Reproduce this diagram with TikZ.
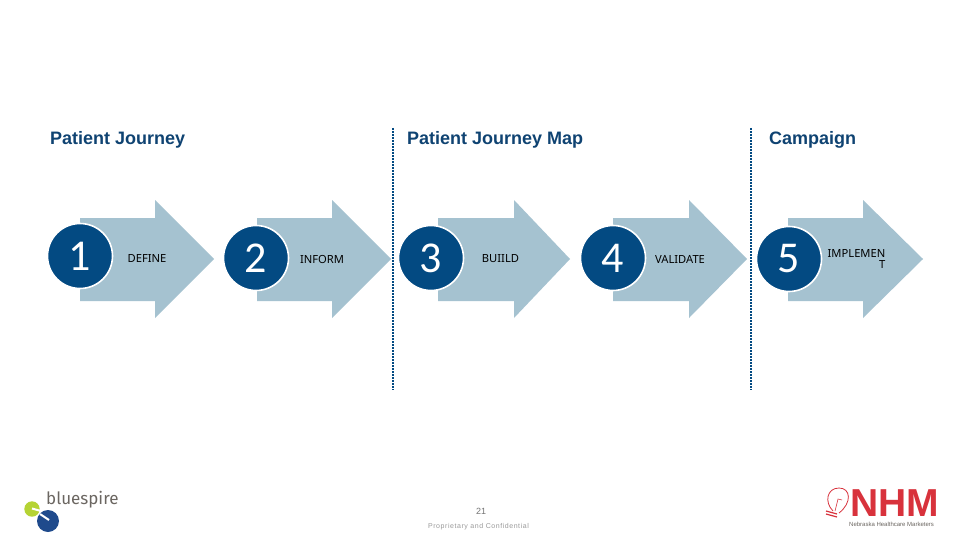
\documentclass[tikz,border=0pt]{standalone}
\usepackage{xcolor}
\usepackage{fontspec}
\setmainfont{Liberation Sans}
\newfontfamily\digitfont{Carlito}
\newfontfamily\labelfont{Noto Sans}
\newfontfamily\logofont{Fira Sans}
\usetikzlibrary{positioning}
\definecolor{DeepBlue}{HTML}{034A82}
\definecolor{HeadBlue}{HTML}{0F4372}
\definecolor{SoftBlue}{HTML}{A5C2D0}
\definecolor{SpireGreen}{HTML}{B5D334}
\definecolor{SpireBlue}{HTML}{1F4A8C}
\definecolor{NhmRed}{HTML}{D8323C}
\definecolor{LogoGrey}{HTML}{6B6661}

\begin{document}
\begin{tikzpicture}[x=1pt,y=-1pt,
  heading/.style={font=\fontsize{18}{20}\selectfont\bfseries,text=HeadBlue,inner sep=0pt},
  stepcircle/.style={circle,fill=DeepBlue,draw=white,line width=1.6pt,minimum size=65pt,inner sep=0pt,
    text=white,font=\digitfont\fontsize{44}{44}\selectfont},
  steplabel/.style={font=\labelfont\fontsize{11.2}{12}\selectfont,text=black,inner sep=0pt},
  divider/.style={draw=DeepBlue,line width=1.7pt,dash pattern=on 2pt off 1pt},
  footer/.style={text=gray,inner sep=0pt}]
\useasboundingbox (0,0) rectangle (960,540);
\fill[white] (0,0) rectangle (960,540);
% headings
\node[heading,anchor=west] (hjourney) at (50,139.5) {Patient Journey};
\node[heading,anchor=west] (hmap) at (407,139.5) {Patient Journey Map};
\node[heading,anchor=west] (hcampaign) at (769,139.5) {Campaign};
% dividers
\coordinate (d1top) at (393,128);
\coordinate (d1bot) at (393,390);
\coordinate (d2top) at (751,128);
\coordinate (d2bot) at (751,390);
\draw[divider] (d1top) -- (d1bot);
\draw[divider] (d2top) -- (d2bot);
% arrows with number circles
\foreach \n/\cx/\cy/\tail/\base/\tip/\lx/\lab in {
  1/80/256/80/155/214/147/DEFINE,
  2/256/258/257/332/391/322/INFORM,
  3/431/258/438/514/570/500.5/BUIILD,
  4/613/258/613/689/747/680/VALIDATE,
  5/789/259/788/863/923/856/{}}{
  \fill[SoftBlue] (\tail,218) -- (\base,218) -- (\base,200) -- (\tip,259)
    -- (\base,318) -- (\base,301) -- (\tail,301) -- cycle;
  \node[stepcircle] (c\n) at (\cx,\cy) {\n};
  \node[steplabel] (l\n) at (\lx,259) {\lab};
}
\node[steplabel,align=right] (l5) at (856.5,259) {IMPLEMEN\\T};
% footer
\node[footer,font=\fontsize{9}{10}\selectfont,text=gray!90!black] (pagenum) at (481,511) {21};
\node[footer,font=\fontsize{7}{8}\selectfont,text=gray!80] (prop) at (478.5,526.5) {\addfontfeatures{LetterSpace=8}Proprietary and Confidential};
% bluespire logo
\fill[SpireGreen] (32,509) circle (7.7);
\fill[SpireBlue] (48,521) circle (11);
\draw[white,line width=2pt] (32,508.5) -- (41,511);
\draw[white,line width=2pt] (40,514) -- (49,520);
\node[inner sep=0pt,anchor=west,text=LogoGrey,font=\logofont\fontsize{17}{20}\selectfont] (spire) at (46,500) {bluespire};
% NHM logo
\draw[NhmRed,line width=0.8pt] (833,511) .. controls (824,502) and (827,488) .. (839,488)
  .. controls (851,488) and (852,503) .. (839,513);
\draw[NhmRed,line width=1.2pt] (826,511) -- (837,514);
\draw[NhmRed,line width=1.2pt] (826,514) -- (837,517);
\draw[NhmRed,line width=0.6pt] (835,511) -- (838,499) -- (842,500);
\node[inner sep=0pt,anchor=west,text=NhmRed,font=\fontsize{39}{39}\selectfont\bfseries] (nhm) at (850,503.5) {NHM};
\node[inner sep=0pt,anchor=west,text=LogoGrey,font=\fontsize{6}{7}\selectfont] (nhmsub) at (849,524.5) {Nebraska Healthcare Marketers};
\end{tikzpicture}
\end{document}
